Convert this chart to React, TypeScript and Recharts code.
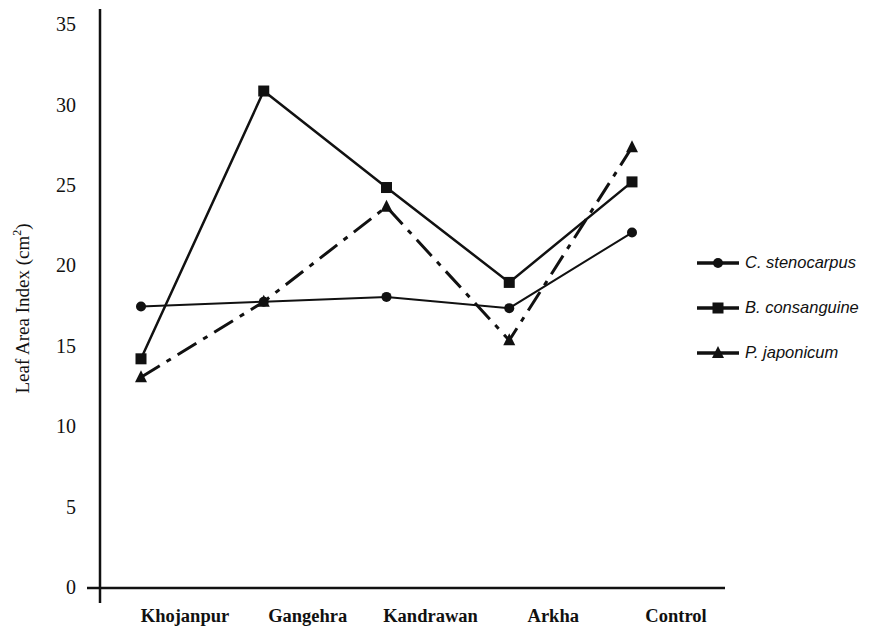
import React from "react";
import { LineChart, Line, XAxis, YAxis, Legend } from "recharts";

const categories = ["Khojanpur", "Gangehra", "Kandrawan", "Arkha", "Control"];
const stenocarpus = [17.5, 17.8, 18.1, 17.4, 22.1];
const consanguine = [14.25, 30.9, 24.9, 19.0, 25.25];
const japonicum = [13.1, 17.8, 23.7, 15.4, 27.4];
const yTicks = [0, 5, 10, 15, 20, 25, 30, 35];
const seriesNames = ["C. stenocarpus", "B. consanguine", "P. japonicum"];

const data = categories.map((site, i) => ({
  site,
  sten: stenocarpus[i],
  cons: consanguine[i],
  japo: japonicum[i],
}));

const INK = "#111";
const serif = "'Liberation Serif', 'Times New Roman', serif";
const sans = "'Liberation Sans', Arial, sans-serif";

function CircleDot({ cx, cy }: any) {
  if (cx == null || cy == null) return null;
  return <circle cx={cx} cy={cy} r={5} fill={INK} />;
}

function SquareDot({ cx, cy }: any) {
  if (cx == null || cy == null) return null;
  return <rect x={cx - 5.5} y={cy - 5.5} width={11} height={11} fill={INK} />;
}

function TriangleDot({ cx, cy }: any) {
  if (cx == null || cy == null) return null;
  return <polygon points={`${cx},${cy - 7} ${cx + 6},${cy + 5} ${cx - 6},${cy + 5}`} fill={INK} />;
}

function YTick({ x, y, payload }: any) {
  const axisX = x + 24;
  return (
    <g>
      <text x={x} y={y} dy={6} textAnchor="end" style={{ fontFamily: serif }} fontSize={20} fill={INK}>
        {payload.value}
      </text>
      {payload.value === 0 && (
        <>
          <line x1={axisX - 13} y1={y} x2={axisX} y2={y} stroke={INK} strokeWidth={2.5} />
          <line x1={axisX} y1={y} x2={axisX} y2={y + 15} stroke={INK} strokeWidth={2.5} />
        </>
      )}
    </g>
  );
}

function XTick({ x, y, payload }: any) {
  return (
    <text x={x + 44} y={y} dy={26} textAnchor="middle" style={{ fontFamily: serif }} fontWeight="bold" fontSize={18.5} fill={INK}>
      {payload.value}
    </text>
  );
}

function YLabel({ viewBox }: any) {
  const cy = viewBox.y + viewBox.height / 2 + 10;
  return (
    <text transform={`translate(29, ${cy}) rotate(-90)`} textAnchor="middle" style={{ fontFamily: serif }} fontSize={19} fill={INK}>
      Leaf Area Index (cm<tspan dy={-8} fontSize={12}>2</tspan><tspan dy={8}>)</tspan>
    </text>
  );
}

const markers = [CircleDot, SquareDot, TriangleDot];
const dashes = [undefined, undefined, "22 8 5 8"];

function LegendBox() {
  return (
    <div style={{ display: "flex", flexDirection: "column" }}>
      {seriesNames.map((name, i) => {
        const Marker = markers[i];
        return (
          <div key={name} style={{ display: "flex", alignItems: "center", height: 45 }}>
            <svg width={48} height={16}>
              <line x1={2} y1={8} x2={44} y2={8} stroke={INK} strokeWidth={3.5} />
              <Marker cx={23} cy={8} />
            </svg>
            <span style={{ fontFamily: sans, fontStyle: "italic", fontSize: 16.5, color: INK, marginLeft: 2 }}>
              {name}
            </span>
          </div>
        );
      })}
    </div>
  );
}

export default function App() {
  return (
    <div style={{ position: "absolute", left: 0, top: 0, width: 880, height: 637, background: "#fff" }}>
      <LineChart width={880} height={637} data={data} margin={{ top: 9, right: 155, bottom: 0, left: 0 }}>
        <XAxis
          dataKey="site"
          height={49}
          padding={{ left: 41, right: 93 }}
          axisLine={{ stroke: INK, strokeWidth: 2.5 }}
          tickLine={false}
          tick={<XTick />}
          interval={0}
        />
        <YAxis
          width={100}
          domain={[0, 36]}
          ticks={yTicks}
          tickSize={0}
          tickMargin={24}
          axisLine={{ stroke: INK, strokeWidth: 2.5 }}
          tickLine={false}
          tick={<YTick />}
          label={<YLabel />}
        />
        <Legend
          verticalAlign="middle"
          align="center"
          layout="vertical"
          content={<LegendBox />}
          wrapperStyle={{ position: "absolute", left: 695, top: 240, width: 185 }}
        />
        <Line
          dataKey="sten"
          name={seriesNames[0]}
          stroke={INK}
          strokeWidth={2}
          dot={<CircleDot />}
          activeDot={false}
          isAnimationActive={false}
        />
        <Line
          dataKey="cons"
          name={seriesNames[1]}
          stroke={INK}
          strokeWidth={2.5}
          dot={<SquareDot />}
          activeDot={false}
          isAnimationActive={false}
        />
        <Line
          dataKey="japo"
          name={seriesNames[2]}
          stroke={INK}
          strokeWidth={3}
          strokeDasharray={dashes[2]}
          dot={<TriangleDot />}
          activeDot={false}
          isAnimationActive={false}
        />
      </LineChart>
    </div>
  );
}
